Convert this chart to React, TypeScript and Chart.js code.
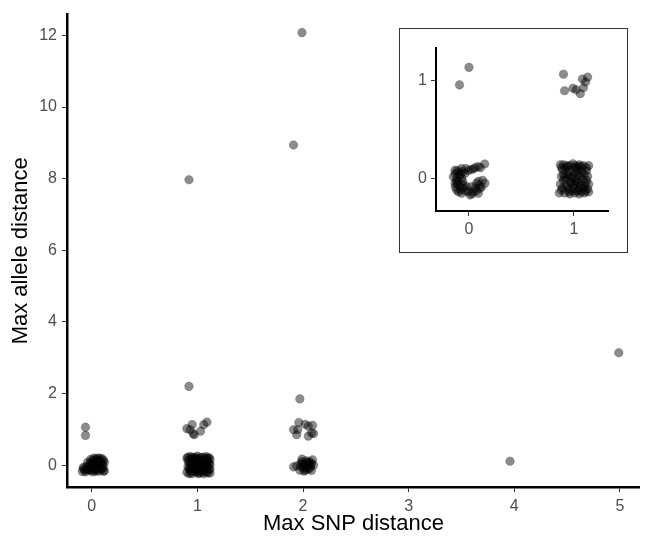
import { useEffect, useRef } from "react";
import { Chart, registerables } from "chart.js";

Chart.register(...registerables);

type Pt = [number, number];

// ---- main panel: [Max SNP distance (jittered), Max allele distance (jittered)] ----
const snp0Low: Pt[] = [
  [-0.09, -0.18], [-0.08, -0.1], [-0.06, -0.19], [-0.05, -0.04], [-0.03, -0.15],
  [-0.02, 0.05], [-0.01, -0.08], [0.0, 0.12], [0.01, -0.19], [0.02, 0.2],
  [0.03, 0.0], [0.03, -0.1], [0.04, 0.15], [0.05, 0.07], [0.06, -0.05],
  [0.06, 0.2], [0.07, -0.17], [0.08, 0.1], [0.09, -0.12], [0.09, 0.02],
  [0.1, 0.18], [0.11, -0.05], [0.12, 0.08], [0.12, -0.16], [0.0, -0.02],
  [-0.04, 0.08], [0.07, 0.14], [0.1, -0.1], [0.05, -0.13], [-0.01, 0.16],
  [-0.07, -0.14], [-0.05, -0.12], [-0.02, -0.12], [0.0, -0.15], [0.02, -0.06],
  [0.04, -0.17], [0.05, 0.02], [0.07, 0.04], [0.08, -0.08], [0.1, 0.05],
  [0.02, 0.1], [0.04, 0.18], [0.08, 0.19], [0.11, 0.13], [-0.02, 0.0],
  [0.01, 0.04], [0.06, 0.11], [-0.08, -0.06], [0.03, -0.14], [0.11, -0.17],
];
const snp0High: Pt[] = [[-0.06, 1.06], [-0.06, 0.83]];

const snp1Low: Pt[] = [
  [0.9, 0.2], [0.91, -0.05], [0.9, -0.2], [0.92, 0.08], [0.93, -0.14],
  [0.93, 0.24], [0.94, 0.0], [0.95, -0.24], [0.95, 0.15], [0.96, -0.09],
  [0.97, 0.05], [0.97, 0.22], [0.98, -0.18], [0.99, 0.12], [0.99, -0.02],
  [1.0, -0.12], [1.0, 0.25], [1.01, 0.04], [1.02, -0.22], [1.02, 0.18],
  [1.03, -0.06], [1.03, 0.1], [1.04, -0.15], [1.05, 0.22], [1.05, 0.0],
  [1.06, -0.24], [1.06, 0.14], [1.07, -0.1], [1.08, 0.06], [1.08, 0.24],
  [1.09, -0.19], [1.09, 0.16], [1.1, -0.03], [1.1, 0.1], [1.11, -0.13],
  [1.11, 0.21], [1.12, 0.02], [1.12, -0.22], [0.92, -0.24], [0.94, 0.18],
  [0.96, 0.02], [0.98, 0.2], [1.01, -0.16], [1.04, 0.08], [1.07, 0.2],
  [1.1, -0.22], [1.0, 0.08], [0.95, -0.1],
  [0.91, 0.12], [0.92, -0.1], [0.93, 0.04], [0.94, -0.2], [0.95, 0.22],
  [0.96, 0.1], [0.97, -0.14], [0.98, -0.06], [0.99, 0.2], [1.0, 0.0],
  [1.01, 0.14], [1.02, -0.1], [1.03, 0.22], [1.04, -0.02], [1.05, -0.2],
  [1.06, 0.06], [1.07, -0.17], [1.08, 0.12], [1.09, -0.06], [1.1, 0.2],
  [1.11, 0.05], [1.12, -0.1], [0.93, -0.06], [0.97, 0.14], [1.01, -0.24],
  [1.05, 0.1], [1.09, 0.0], [0.91, 0.22], [1.12, 0.16], [0.99, -0.2],
];
const snp1High: Pt[] = [
  [0.9, 1.02], [0.95, 1.13], [0.96, 0.88], [0.97, 0.85], [1.03, 0.95],
  [1.06, 1.13], [1.09, 1.2], [0.93, 0.99], [0.92, 2.2], [0.92, 7.97],
];

const snp2Low: Pt[] = [
  [1.91, -0.05], [1.94, -0.02], [1.99, 0.17], [2.09, 0.15], [2.03, 0.12],
  [1.98, 0.05], [2.0, -0.08], [2.02, 0.0], [2.04, -0.12], [2.05, 0.06],
  [2.07, -0.04], [2.08, -0.15], [2.1, 0.0], [1.97, -0.14], [2.01, -0.17],
  [2.06, 0.1], [1.99, 0.1],
  [2.0, 0.03], [2.03, -0.06], [2.06, -0.1], [2.04, 0.08], [2.08, 0.05],
  [2.02, -0.14], [1.98, -0.03], [2.07, 0.02],
];
const snp2High: Pt[] = [
  [1.96, 1.19], [1.91, 0.99], [1.94, 0.85], [2.02, 1.14], [2.05, 1.09],
  [2.09, 1.11], [2.08, 0.9], [2.05, 0.81], [2.1, 0.88], [1.95, 0.99],
  [1.97, 1.85], [1.91, 8.94], [1.99, 12.08],
];
const snpFar: Pt[] = [[3.96, 0.11], [4.99, 3.14]];

const mainXTicks = [0, 1, 2, 3, 4, 5];
const mainYTicks = [0, 2, 4, 6, 8, 10, 12];

// ---- inset: close-up of SNP distance 0–1, allele distance 0–1 ----
const inset0Low: Pt[] = [
  [0.15, 0.147], [0.089, 0.12], [0.041, 0.096], [-0.006, 0.08], [-0.07, 0.1],
  [-0.133, 0.083], [-0.149, 0.016], [-0.133, -0.051], [-0.117, -0.12], [-0.07, -0.154],
  [0.01, -0.171], [0.089, -0.154], [0.105, -0.103], [0.152, -0.051], [0.073, -0.051],
  [0.026, -0.085], [-0.07, 0.0], [-0.038, 0.05], [-0.086, -0.085], [-0.022, -0.085],
  [-0.1, 0.06], [-0.054, -0.068], [-0.006, -0.137], [0.041, -0.137], [-0.117, 0.0],
  [-0.1, -0.03], [-0.09, 0.03], [0.06, -0.1],
  [-0.13, 0.05], [-0.12, -0.03], [-0.11, 0.08], [-0.13, -0.09], [-0.1, -0.14],
  [-0.08, 0.04], [-0.06, 0.07], [-0.08, -0.12], [-0.05, -0.1], [-0.03, -0.13],
  [0.03, -0.16], [0.07, -0.13], [0.1, -0.07], [0.12, -0.09], [0.13, -0.02],
  [0.11, 0.11], [0.06, 0.11], [0.02, 0.09], [-0.03, 0.1], [-0.11, -0.06],
  [-0.06, -0.03], [0.09, -0.03],
];
const inset0High: Pt[] = [[-0.09, 0.96], [0.0, 1.14]];

const inset1Low: Pt[] = [
  [0.87, 0.14], [0.93, 0.13], [0.99, 0.15], [1.05, 0.14], [1.09, 0.13], [1.14, 0.13],
  [0.89, 0.09], [0.96, 0.08], [1.02, 0.1], [1.07, 0.09], [1.12, 0.08],
  [0.9, 0.04], [0.95, 0.03], [1.0, 0.05], [1.04, 0.04], [1.1, 0.03],
  [0.93, -0.01], [0.98, 0.0], [1.03, -0.02], [1.08, -0.01],
  [0.87, -0.06], [0.92, -0.07], [0.97, -0.05], [1.01, -0.06], [1.06, -0.07], [1.11, -0.05], [1.14, -0.06],
  [0.89, -0.1], [0.95, -0.11], [1.0, -0.1], [1.04, -0.12], [1.09, -0.1], [1.13, -0.11],
  [0.86, -0.15], [0.91, -0.15], [0.96, -0.16], [1.01, -0.15], [1.05, -0.16], [1.1, -0.15], [1.14, -0.14],
  [0.94, 0.12], [1.01, 0.11], [1.06, 0.02], [0.97, -0.04], [1.03, -0.13], [0.91, 0.01],
  [0.88, 0.11], [0.9, -0.02], [0.92, 0.1], [0.94, -0.09], [0.96, 0.13],
  [0.98, -0.13], [1.0, 0.02], [1.02, -0.04], [1.04, 0.12], [1.06, -0.1],
  [1.08, 0.06], [1.1, -0.08], [1.12, 0.11], [1.13, 0.02], [0.88, -0.12],
  [0.94, 0.06], [0.99, -0.07], [1.03, 0.07], [1.07, -0.14], [1.11, -0.13],
  [0.9, 0.14], [0.97, 0.01], [1.05, -0.04], [1.12, -0.02], [0.95, -0.14],
  [1.01, 0.13], [1.07, 0.12], [0.88, 0.02],
];
const inset1High: Pt[] = [
  [0.9, 1.07], [0.91, 0.9], [0.99, 0.925], [1.02, 0.91], [1.06, 0.87],
  [1.09, 0.93], [1.08, 1.02], [1.11, 0.99], [1.13, 1.04],
];

const insetXTicks = [0, 1];
const insetYTicks = [0, 1];

const FONT = "'Liberation Sans', Arial, Helvetica, sans-serif";
const POINT_FILL = "rgba(0,0,0,0.45)";
const POINT_EDGE = "rgba(0,0,0,0.25)";

const toXY = (groups: Pt[][]) => groups.flat().map(([x, y]) => ({ x, y }));

interface AxisSpec {
  min: number;
  max: number;
  ticks: number[];
  title?: string;
  size: number; // reserved width (y) or height (x)
}

function buildConfig(
  points: { x: number; y: number }[],
  xs: AxisSpec,
  ys: AxisSpec,
  padding: { top: number; right: number },
  tickSize: number,
  axisWidth: number,
  tickLen: number,
  tickPad: number
): any {
  const axis = (spec: AxisSpec, isX: boolean) => ({
    type: "linear",
    min: spec.min,
    max: spec.max,
    afterBuildTicks: (scale: any) => {
      scale.ticks = spec.ticks.map((v) => ({ value: v }));
    },
    afterFit: (scale: any) => {
      if (isX) scale.height = spec.size;
      else scale.width = spec.size;
    },
    grid: {
      display: true,
      drawOnChartArea: false,
      drawTicks: true,
      tickLength: tickLen,
      color: "#333333",
      lineWidth: 1,
    },
    border: { display: true, color: "#000000", width: axisWidth },
    ticks: {
      autoSkip: false,
      padding: tickPad,
      color: "#4d4d4d",
      font: { family: FONT, size: tickSize },
      maxRotation: 0,
    },
    title: spec.title
      ? {
          display: true,
          text: spec.title,
          color: "#000000",
          font: { family: FONT, size: 22 },
          padding: isX ? { top: 0, bottom: 0 } : { top: 8, bottom: 0 },
        }
      : { display: false },
  });

  return {
    type: "scatter",
    data: {
      datasets: [
        {
          data: points,
          backgroundColor: POINT_FILL,
          borderColor: POINT_EDGE,
          borderWidth: 0.8,
          pointRadius: 4.3,
          pointHoverRadius: 4.3,
        },
      ],
    },
    options: {
      animation: false,
      responsive: false,
      events: [],
      layout: { padding: { top: padding.top, right: padding.right, left: 0, bottom: 0 } },
      plugins: { legend: { display: false }, tooltip: { enabled: false } },
      scales: { x: axis(xs, true), y: axis(ys, false) },
    },
  };
}

export default function App() {
  const mainRef = useRef<HTMLCanvasElement | null>(null);
  const insetRef = useRef<HTMLCanvasElement | null>(null);

  useEffect(() => {
    if (!mainRef.current || !insetRef.current) return;

    const main = new Chart(
      mainRef.current,
      buildConfig(
        toXY([snp0Low, snp0High, snp1Low, snp1High, snp2Low, snp2High, snpFar]),
        { min: -0.235, max: 5.19, ticks: mainXTicks, title: "Max SNP distance", size: 50 },
        { min: -0.611, max: 12.583, ticks: mainYTicks, title: "Max allele distance", size: 67 },
        { top: 12, right: 0 },
        16,
        2.5,
        5,
        5
      )
    );

    const inset = new Chart(
      insetRef.current,
      buildConfig(
        toXY([inset0Low, inset0High, inset1Low, inset1High]),
        { min: -0.314, max: 1.324, ticks: insetXTicks, size: 41 },
        { min: -0.336, max: 1.339, ticks: insetYTicks, size: 36 },
        { top: 19, right: 19 },
        16,
        2,
        5,
        4
      )
    );

    return () => {
      main.destroy();
      inset.destroy();
    };
  }, []);

  return (
    <div style={{ position: "absolute", left: 0, top: 0, width: 645, height: 537, background: "#fff" }}>
      <canvas ref={mainRef} width={645} height={537} style={{ position: "absolute", left: 0, top: 0 }} />
      <div
        style={{
          position: "absolute",
          left: 399,
          top: 28,
          width: 227,
          height: 223,
          border: "1px solid #333",
          background: "#fff",
        }}
      >
        <canvas ref={insetRef} width={227} height={223} style={{ position: "absolute", left: 0, top: 0 }} />
      </div>
    </div>
  );
}
